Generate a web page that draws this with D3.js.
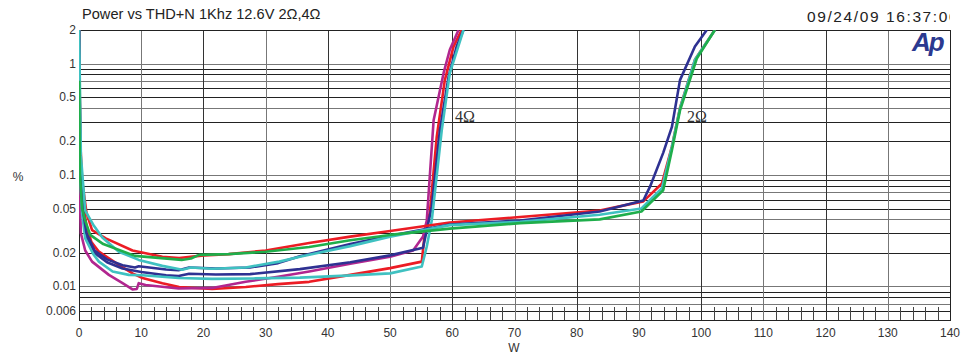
<!DOCTYPE html>
<html>
<head>
<meta charset="utf-8">
<script src="https://cdn.jsdelivr.net/npm/d3@7"></script>
<style>
  body { margin: 0; background: #fff; }
  svg { display: block; font-family: "Liberation Sans", Arial, sans-serif; }
</style>
</head>
<body>
<div id="container"></div>
<script>
// tick labels
const xTicks = [0, 10, 20, 30, 40, 50, 60, 70, 80, 90, 100, 110, 120, 130, 140];
const yTicks = [2, 1, 0.5, 0.2, 0.1, 0.05, 0.02, 0.01, 0.006];
const yTickText = ["2", "1", "0.5", "0.2", "0.1", "0.05", "0.02", "0.01", "0.006"];

// series: [W, %]
const red4 = [[0.02,2],[0.2,0.15],[0.6,0.06],[1.2,0.035],[2,0.025],[3.2,0.0205],[6.4,0.0156],[8.6,0.0131],[10.2,0.0119],[13.4,0.0107],[16.1,0.0099],[21.4,0.0095],[26.8,0.0099],[32,0.0105],[37,0.011],[43.6,0.0127],[50,0.0146],[55.1,0.0167],[55.6,0.031],[56.4,0.046],[57.5,0.22],[58.8,0.71],[60.2,1.42],[61.5,2]];
const magenta4 = [[0.02,2],[0.08,0.2],[0.15,0.06],[0.3,0.03],[1,0.021],[2.1,0.0167],[4.8,0.0127],[7,0.0107],[8.6,0.0094],[9.3,0.0095],[9.6,0.0107],[10.7,0.0103],[16,0.0096],[21.4,0.0097],[26.8,0.011],[32,0.0122],[37,0.0136],[43.6,0.016],[50,0.0185],[53.7,0.021],[55.3,0.028],[55.9,0.039],[57,0.31],[58.6,0.82],[59.6,1.33],[61,2]];
const blue4 = [[0.02,2],[0.2,0.12],[0.6,0.045],[1.2,0.028],[2.5,0.02],[4.5,0.0165],[7,0.0145],[10,0.0135],[14,0.0126],[16,0.0124],[17.7,0.013],[22,0.0128],[27.5,0.0129],[35.5,0.0143],[43.6,0.0165],[50,0.019],[55.3,0.0222],[56.7,0.052],[58,0.25],[59.4,0.76],[60.7,1.42],[61.8,2]];
const cyan4 = [[0.02,2],[0.2,0.1],[0.5,0.045],[1,0.027],[2.3,0.0195],[3.2,0.0167],[5.4,0.0136],[8,0.0127],[10.2,0.0126],[16,0.0119],[21.4,0.0117],[28,0.0118],[35.5,0.012],[43,0.0125],[50,0.0131],[55.1,0.0151],[55.9,0.0228],[56.7,0.039],[58.3,0.25],[59.6,0.82],[61.8,2]];
const red2 = [[0.02,2],[0.2,0.2],[0.5,0.09],[1.2,0.046],[2.1,0.032],[4.3,0.027],[8.6,0.021],[13.4,0.0185],[16.1,0.018],[20.1,0.019],[24.1,0.0195],[30,0.021],[37,0.0245],[43.6,0.028],[50,0.0315],[59.6,0.0375],[70.9,0.042],[83.7,0.048],[90.7,0.058],[93.7,0.084],[95.3,0.18],[96.6,0.4],[99,1.08],[102.2,2]];
const blue2 = [[0.02,2],[0.2,0.15],[0.6,0.05],[1.2,0.03],[2.5,0.021],[4.5,0.0175],[7,0.0155],[9,0.0148],[9.6,0.0152],[14,0.0142],[16,0.014],[17.7,0.0148],[22,0.0145],[27.5,0.0148],[32,0.0162],[35.5,0.0187],[43.6,0.024],[50,0.0285],[59.6,0.036],[70.9,0.039],[83.7,0.047],[90.7,0.059],[91.8,0.079],[93.9,0.158],[95.3,0.27],[96.6,0.71],[99,1.42],[100.9,2]];
const cyan2 = [[0.02,2],[0.3,0.15],[1,0.048],[2.4,0.035],[3.75,0.0275],[6.4,0.0205],[9.6,0.0173],[13.4,0.0153],[16.6,0.0141],[18,0.0148],[21.4,0.0144],[26.8,0.0148],[32.2,0.0167],[35.5,0.0185],[43.6,0.023],[50,0.028],[59.6,0.0355],[70.9,0.038],[83.7,0.044],[90.4,0.05],[93.7,0.076],[95.3,0.179],[96.6,0.396],[99,1.08],[102.2,2]];
const green2 = [[0.02,0.7],[0.15,0.1],[0.5,0.05],[1,0.039],[1.8,0.029],[3.9,0.024],[9,0.0188],[16.5,0.0173],[18,0.0178],[19.3,0.0192],[24,0.0195],[30,0.0205],[37,0.0226],[43.6,0.026],[50,0.029],[59.6,0.033],[70.9,0.037],[83.7,0.04],[90.4,0.047],[93.9,0.073],[95.3,0.167],[96.6,0.38],[99.3,1.11],[102.2,2]];

const series = [
  { data: red4, color: "#ec1c24" },
  { data: magenta4, color: "#b1268f" },
  { data: blue4, color: "#2e3192" },
  { data: cyan4, color: "#3fc1c1" },
  { data: red2, color: "#ec1c24" },
  { data: blue2, color: "#2e3192" },
  { data: cyan2, color: "#3fc1c1" },
  { data: green2, color: "#1fae4b" }
];

const width = 962, height = 355;
const pLeft = 79, pRight = 950, pTop = 30, pBottom = 320;

const svg = d3.select('#container').append('svg')
  .attr('width', width)
  .attr('height', height);

const x = d3.scaleLinear().domain([0, 140]).range([pLeft, pRight]);
const y = d3.scaleLog().domain([0.005, 2]).range([pBottom, pTop]);

// horizontal log grid
const hGrid = [];
[0.001, 0.01, 0.1, 1].forEach(dec => {
  for (let m = 1; m <= 9; m++) {
    const v = +(m * dec).toPrecision(3);
    if (v > 0.005 && v <= 2) hGrid.push(v);
  }
});
svg.append('g').selectAll('line')
  .data(hGrid)
  .enter().append('line')
  .attr('x1', pLeft).attr('x2', pRight)
  .attr('y1', d => Math.round(y(d)) + 0.5)
  .attr('y2', d => Math.round(y(d)) + 0.5)
  .attr('stroke', (d, i) => i % 3 === 1 ? '#777' : '#222')
  .attr('stroke-width', 1);

// vertical grid
svg.append('g').selectAll('line')
  .data(xTicks)
  .enter().append('line')
  .attr('x1', d => Math.round(x(d)) + 0.5)
  .attr('x2', d => Math.round(x(d)) + 0.5)
  .attr('y1', pTop).attr('y2', pBottom)
  .attr('stroke', (d, i) => i % 2 === 0 ? '#333' : '#777')
  .attr('stroke-width', 1);

// minor x ticks every 2 W
const minor = d3.range(2, 140, 2).filter(d => d % 10 !== 0);
svg.append('g').selectAll('line')
  .data(minor)
  .enter().append('line')
  .attr('x1', d => Math.round(x(d)) + 0.5)
  .attr('x2', d => Math.round(x(d)) + 0.5)
  .attr('y1', pBottom - 13).attr('y2', pBottom)
  .attr('stroke', '#444');

// frame
svg.append('rect')
  .attr('x', pLeft + 0.5).attr('y', pTop + 0.5)
  .attr('width', pRight - pLeft).attr('height', pBottom - pTop)
  .attr('fill', 'none').attr('stroke', '#222');

// axis labels
svg.append('g').selectAll('text')
  .data(xTicks)
  .enter().append('text')
  .attr('x', d => x(d))
  .attr('y', 337)
  .attr('text-anchor', 'middle')
  .attr('font-size', 12)
  .attr('fill', '#333')
  .text(d => d);

svg.append('g').selectAll('text')
  .data(yTicks)
  .enter().append('text')
  .attr('x', 76)
  .attr('y', d => y(d) + 4)
  .attr('text-anchor', 'end')
  .attr('font-size', 12)
  .attr('fill', '#333')
  .text((d, i) => yTickText[i]);

svg.append('text').attr('x', 514).attr('y', 352)
  .attr('text-anchor', 'middle').attr('font-size', 12).attr('fill', '#333').text('W');
svg.append('text').attr('x', 18).attr('y', 181)
  .attr('text-anchor', 'middle').attr('font-size', 12).attr('fill', '#333').text('%');

// curves
svg.append('clipPath').attr('id', 'plot')
  .append('rect').attr('x', pLeft).attr('y', pTop).attr('width', pRight - pLeft).attr('height', pBottom - pTop);

const line = d3.line().x(d => x(d[0])).y(d => y(d[1]));
svg.append('g').attr('clip-path', 'url(#plot)')
  .selectAll('path')
  .data(series)
  .enter().append('path')
  .attr('d', d => line(d.data))
  .attr('fill', 'none')
  .attr('stroke', d => d.color)
  .attr('stroke-width', 2.6)
  .attr('stroke-linejoin', 'round');

// impedance labels
svg.append('text').attr('x', 455).attr('y', 122)
  .attr('font-family', '"Liberation Serif", "Times New Roman", serif')
  .attr('font-size', 16).attr('fill', '#333').text('4Ω');
svg.append('text').attr('x', 687).attr('y', 122)
  .attr('font-family', '"Liberation Serif", "Times New Roman", serif')
  .attr('font-size', 16).attr('fill', '#333').text('2Ω');

// title and date
svg.append('text').attr('x', 82).attr('y', 19)
  .attr('font-size', 14.6).attr('fill', '#222')
  .text('Power vs THD+N 1Khz 12.6V 2Ω,4Ω');

svg.append('clipPath').attr('id', 'dateClip')
  .append('rect').attr('x', 0).attr('y', 0).attr('width', 950).attr('height', 30);
svg.append('text').attr('x', 807).attr('y', 22)
  .attr('clip-path', 'url(#dateClip)')
  .attr('font-size', 15.5).attr('letter-spacing', 1.6).attr('fill', '#222')
  .text('09/24/09 16:37:00');

// Ap logo
svg.append('text').attr('x', 912).attr('y', 51)
  .attr('font-size', 26).attr('font-weight', 'bold').attr('font-style', 'italic')
  .attr('letter-spacing', -2)
  .attr('fill', '#2b3990')
  .text('Ap');
</script>
</body>
</html>
